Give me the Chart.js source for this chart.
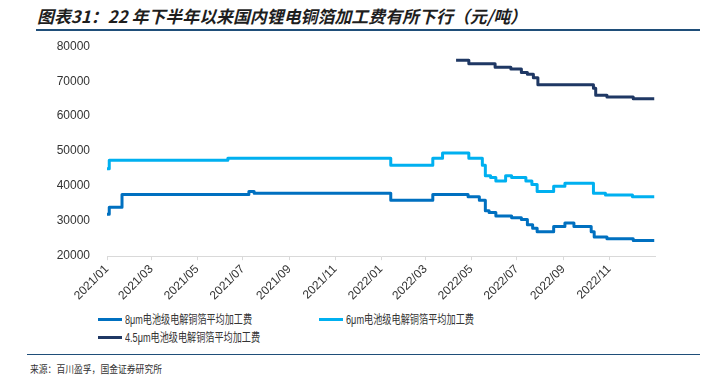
<!DOCTYPE html>
<html>
<head>
<meta charset="utf-8">
<script src="https://cdn.jsdelivr.net/npm/chart.js@4.4.1/dist/chart.umd.min.js"></script>
<style>
  body { margin: 0; width: 706px; height: 383px; position: relative; overflow: hidden; background: #fff;
         font-family: "Liberation Sans", Arial, "Noto Sans CJK SC", sans-serif; }
  .title { position: absolute; left: 37px; top: 3px; font: italic bold 17px "Noto Sans CJK SC", sans-serif; color: #1e1e1e; white-space: nowrap; }
  .rule { position: absolute; background: #1f4e79; }
  #box { position: absolute; left: 0; top: 30px; width: 680px; height: 275px; }
  .leg { position: absolute; font-size: 12px; color: #333; white-space: nowrap; line-height: 14px; }
  .leg i { display: inline-block; width: 24px; height: 3px; vertical-align: middle; margin-right: 3px; position: relative; top: -1px; }
  .fit { display: inline-block; white-space: nowrap; transform-origin: left center; }
  .src { position: absolute; left: 30px; top: 361px; font: 10px "Noto Sans CJK SC", sans-serif; color: #333; }
</style>
</head>
<body>
<div class="title"><span class="fit" data-w="490">图表31：22 年下半年以来国内锂电铜箔加工费有所下行（元/吨）</span></div>
<div class="rule" style="left:36px;top:29px;width:664px;height:2px;"></div>
<div id="box"><canvas id="feeChart"></canvas></div>
<div id="legend"></div>
<div class="rule" style="left:27px;top:354px;width:673px;height:1px;"></div>
<div class="src"><span class="fit" data-w="132">来源：百川盈孚，国金证券研究所</span></div>

<script>
"use strict";

// ----------------------------
// Data (dates = first day each price applies)
// ----------------------------
const tickLabels = ["2021/01", "2021/03", "2021/05", "2021/07", "2021/09", "2021/11",
                    "2022/01", "2022/03", "2022/05", "2022/07", "2022/09", "2022/11"];

const seriesNames = ["8μm电池级电解铜箔平均加工费", "6μm电池级电解铜箔平均加工费", "4.5μm电池级电解铜箔平均加工费"];
const seriesColors = ["#0070c0", "#00b0f0", "#1f3864"];

const dates8 = ["2021-01-01", "2021-01-04", "2021-01-21", "2021-07-09", "2021-07-16", "2022-01-14",
                "2022-03-11", "2022-04-27", "2022-05-12", "2022-05-20", "2022-05-25", "2022-06-03",
                "2022-06-24", "2022-07-07", "2022-07-15", "2022-07-22", "2022-07-28", "2022-08-19",
                "2022-09-03", "2022-09-15", "2022-10-08", "2022-10-12", "2022-10-29", "2022-12-03", "2022-12-31"];
const fee8 = [32000, 34000, 37600, 38500, 38000, 36000,
              37600, 37000, 36000, 33000, 32500, 31500,
              31000, 30500, 29000, 28000, 27000, 28500,
              29500, 28500, 27000, 25500, 25000, 24500, 24500];

const dates6 = ["2021-01-01", "2021-01-04", "2021-06-11", "2022-01-14", "2022-03-11", "2022-03-24",
                "2022-04-28", "2022-05-16", "2022-05-20", "2022-05-27", "2022-06-03", "2022-06-16",
                "2022-06-24", "2022-07-13", "2022-07-21", "2022-07-28", "2022-08-19", "2022-09-03",
                "2022-10-11", "2022-10-27", "2022-12-02", "2022-12-31"];
const fee6 = [45000, 47400, 48000, 46000, 48000, 49500,
              48000, 46000, 43000, 42500, 41500, 43000,
              42500, 41500, 40500, 38500, 40000, 40800,
              38000, 37500, 37000, 37000];

const dates45 = ["2022-04-11", "2022-04-28", "2022-06-02", "2022-06-23", "2022-07-07", "2022-07-15",
                 "2022-07-23", "2022-07-29", "2022-10-11", "2022-10-14", "2022-10-29", "2022-12-03", "2022-12-31"];
const fee45 = [76000, 75000, 74000, 73500, 72500, 72000,
               71000, 69000, 68000, 66000, 65500, 65000, 65000];

// ----------------------------
// Helpers
// ----------------------------
const START = Date.UTC(2021, 0, 1);
function dayOf(s) {
  const [y, m, d] = s.split("-").map(Number);
  return Math.round((Date.UTC(y, m - 1, d) - START) / 86400000);
}
function toPoints(dates, vals) {
  return dates.map((d, i) => ({ x: dayOf(d), y: vals[i] }));
}

// ----------------------------
// Legend (HTML)
// ----------------------------
const legendPos = [[98, 313], [319, 313], [98, 331]];
const legendW = [127, 128, 135];
document.getElementById("legend").innerHTML = seriesNames.map((n, i) => `
  <div class="leg" style="left:${legendPos[i][0]}px;top:${legendPos[i][1]}px;">
    <i style="background:${seriesColors[i]}"></i><span class="fit" data-w="${legendW[i]}">${n}</span>
  </div>`).join("");

// squeeze text to the widths seen in the picture
document.querySelectorAll(".fit").forEach(el => {
  const w = el.getBoundingClientRect().width;
  el.style.transform = `scaleX(${el.dataset.w / w})`;
});

// ----------------------------
// Chart
// ----------------------------
const allDates = [dates8, dates6, dates45];
const allFees = [fee8, fee6, fee45];

new Chart(document.getElementById("feeChart"), {
  type: "line",
  data: {
    datasets: seriesNames.map((n, i) => ({
      label: n,
      data: toPoints(allDates[i], allFees[i]),
      borderColor: seriesColors[i],
      backgroundColor: seriesColors[i],
      borderWidth: 3,
      pointRadius: 0,
      stepped: "before",
      borderJoinStyle: "round"
    }))
  },
  options: {
    responsive: true,
    maintainAspectRatio: false,
    animation: false,
    layout: { padding: { left: 8, right: 25, top: 6, bottom: 0 } },
    plugins: { legend: { display: false }, tooltip: { enabled: false } },
    scales: {
      x: {
        type: "linear",
        min: 0,
        max: dayOf("2023-01-01"),
        afterBuildTicks: scale => {
          scale.ticks = tickLabels.map(l => ({ value: dayOf(l.replace("/", "-") + "-01") }));
        },
        ticks: {
          callback: (v, i) => tickLabels[i],
          minRotation: 45,
          maxRotation: 45,
          color: "#333",
          font: { size: 12, family: "'Liberation Sans', Arial" },
          padding: 2
        },
        grid: { drawOnChartArea: false, tickLength: 4, color: "#d9d9d9" },
        border: { color: "#d9d9d9" }
      },
      y: {
        min: 20000,
        max: 80000,
        afterFit: scale => { scale.width = 99; },
        ticks: {
          stepSize: 10000,
          callback: v => String(v),
          color: "#333",
          font: { size: 12, family: "'Liberation Sans', Arial" },
          padding: 9
        },
        grid: { display: false },
        border: { display: false }
      }
    }
  }
});
</script>
</body>
</html>
